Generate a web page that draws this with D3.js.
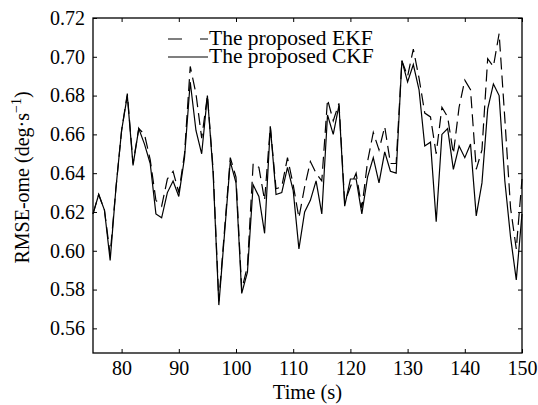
<!DOCTYPE html>
<html>
<head>
<meta charset="utf-8">
<script src="https://cdn.jsdelivr.net/npm/d3@7"></script>
<style>
  body { margin: 0; background: #fff; }
  text { font-family: "Liberation Serif", "Times New Roman", "DejaVu Serif", serif; fill: #000; }
</style>
</head>
<body>
<div id="chart"></div>
<script>
// time axis (s)
const times = [75, 76, 77, 78, 79, 80, 81, 82, 83, 84, 85, 86, 87, 88, 89, 90, 91, 92, 93, 94,
  95, 96, 97, 98, 99, 100, 101, 102, 103, 104, 105, 106, 107, 108, 109, 110, 111, 112, 113, 114,
  115, 116, 117, 118, 119, 120, 121, 122, 123, 124, 125, 126, 127, 128, 129, 130, 131, 132, 133, 134,
  135, 136, 137, 138, 139, 140, 141, 142, 143, 144, 145, 146, 147, 148, 149, 150];

// RMSE of the angular rate, EKF (dashed)
const ekf = [0.619, 0.629, 0.621, 0.598, 0.632, 0.662, 0.681, 0.645, 0.663, 0.660,
  0.647, 0.626, 0.623, 0.637, 0.641, 0.630, 0.650, 0.695, 0.681, 0.658,
  0.680, 0.642, 0.574, 0.611, 0.648, 0.638, 0.580, 0.592, 0.645, 0.643,
  0.626, 0.664, 0.632, 0.633, 0.648, 0.634, 0.617, 0.633, 0.646, 0.640,
  0.636, 0.678, 0.667, 0.676, 0.625, 0.633, 0.640, 0.622, 0.646, 0.661,
  0.652, 0.664, 0.645, 0.645, 0.698, 0.690, 0.704, 0.689, 0.671, 0.669,
  0.650, 0.674, 0.669, 0.650, 0.674, 0.688, 0.683, 0.642, 0.652, 0.699,
  0.695, 0.712, 0.668, 0.622, 0.601, 0.637];

// RMSE of the angular rate, CKF (solid)
const ckf = [0.619, 0.629, 0.621, 0.595, 0.632, 0.662, 0.680, 0.644, 0.663, 0.655,
  0.645, 0.619, 0.617, 0.630, 0.636, 0.628, 0.648, 0.687, 0.662, 0.650,
  0.680, 0.640, 0.572, 0.609, 0.646, 0.635, 0.578, 0.589, 0.634, 0.628,
  0.609, 0.664, 0.629, 0.630, 0.643, 0.631, 0.601, 0.620, 0.626, 0.636,
  0.619, 0.670, 0.660, 0.675, 0.623, 0.637, 0.637, 0.619, 0.638, 0.648,
  0.635, 0.651, 0.641, 0.640, 0.698, 0.687, 0.696, 0.683, 0.654, 0.656,
  0.615, 0.660, 0.663, 0.642, 0.654, 0.648, 0.655, 0.618, 0.635, 0.673,
  0.686, 0.680, 0.636, 0.607, 0.585, 0.619];

const xTicks = [80, 90, 100, 110, 120, 130, 140, 150];
const yTicks = [0.56, 0.58, 0.60, 0.62, 0.64, 0.66, 0.68, 0.70, 0.72];
const legendNames = ['The proposed EKF', 'The proposed CKF'];

const margin = { top: 18, right: 16, bottom: 52, left: 93 };
const width = 538 - margin.left - margin.right;
const height = 405 - margin.top - margin.bottom;
const serif = '"Liberation Serif", "Times New Roman", "DejaVu Serif", serif';

const svg = d3.select('#chart')
  .append('svg')
  .attr('width', 538)
  .attr('height', 405)
  .append('g')
  .attr('transform', `translate(${margin.left}, ${margin.top})`);

const xScale = d3.scaleLinear().domain([75, 150]).range([0, width]);
const yScale = d3.scaleLinear().domain([0.5473, 0.72]).range([height, 0]);

// axes with inward ticks on all four sides
svg.append('g')
  .attr('class', 'axis')
  .attr('transform', `translate(0, ${height})`)
  .call(d3.axisBottom(xScale).tickValues(xTicks).tickSize(-4).tickPadding(8));

svg.append('g')
  .attr('class', 'axis')
  .call(d3.axisTop(xScale).tickValues(xTicks).tickSize(-4).tickFormat(''));

svg.append('g')
  .attr('class', 'axis')
  .call(d3.axisLeft(yScale).tickValues(yTicks).tickSize(-4).tickPadding(8).tickFormat(d3.format('.2f')));

svg.append('g')
  .attr('class', 'axis')
  .attr('transform', `translate(${width}, 0)`)
  .call(d3.axisRight(yScale).tickValues(yTicks).tickSize(-4).tickFormat(''));

svg.selectAll('.axis').attr('font-family', serif);
svg.selectAll('.axis .domain').remove();
svg.selectAll('.axis line').attr('stroke', '#000').attr('stroke-width', 1);
svg.selectAll('.axis text').style('font-size', '20px').style('font-family', serif);

// lines
const line = (vals) => d3.line()
  .x((d, i) => xScale(times[i]))
  .y(d => yScale(d))(vals);

svg.append('path')
  .attr('d', line(ekf))
  .attr('fill', 'none')
  .attr('stroke', '#000')
  .attr('stroke-width', 1.2)
  .attr('stroke-dasharray', '12,6');

svg.append('path')
  .attr('d', line(ckf))
  .attr('fill', 'none')
  .attr('stroke', '#000')
  .attr('stroke-width', 1.2);

// frame
svg.append('rect')
  .attr('width', width)
  .attr('height', height)
  .attr('fill', 'none')
  .attr('stroke', '#000')
  .attr('stroke-width', 1.3);

// legend
const legend = svg.append('g').attr('transform', 'translate(75, 21)');
legendNames.forEach((name, i) => {
  legend.append('line')
    .attr('x1', 0).attr('x2', 40)
    .attr('y1', i * 18).attr('y2', i * 18)
    .attr('stroke', '#000')
    .attr('stroke-width', 1.2)
    .attr('stroke-dasharray', i === 0 ? '14,18' : null);
  legend.append('text')
    .attr('x', 41)
    .attr('y', i * 18 + 6)
    .style('font-size', '21.5px')
    .text(name);
});

// axis labels
svg.append('text')
  .attr('x', width / 2)
  .attr('y', height + 46)
  .attr('text-anchor', 'middle')
  .style('font-size', '20.5px')
  .text('Time (s)');

const yl = svg.append('text')
  .attr('transform', `translate(${-margin.left + 29}, ${height / 2 - 8}) rotate(-90)`)
  .attr('text-anchor', 'middle')
  .style('font-size', '20px');
yl.append('tspan').text('RMSE-ome (deg·s');
yl.append('tspan').attr('dy', -8).style('font-size', '14px').text('−1');
yl.append('tspan').attr('dy', 8).text(')');
</script>
</body>
</html>
